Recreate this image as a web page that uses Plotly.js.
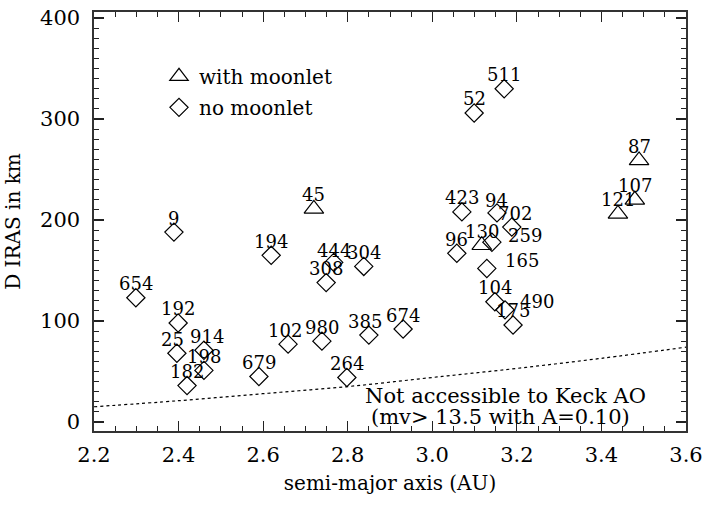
<!DOCTYPE html>
<html>
<head>
<meta charset="utf-8">
<script src="https://cdn.plot.ly/plotly-3.0.1.min.js"></script>
<style>
  html, body { margin: 0; padding: 0; background: #fff; }
  #chart { width: 710px; height: 505px; }
</style>
</head>
<body>
<div id="chart"></div>
<script>
// asteroids with a known moonlet (triangles)
const moonName = ['45', '130', '87', '107', '121'];
const moonA = [2.720, 3.117, 3.489, 3.479, 3.439];
const moonD = [211, 175, 259, 220, 206];

// asteroids without moonlet (diamonds)
const noName = ['9', '194', '444', '304', '308', '654', '192', '25', '914', '198', '182', '679', '102', '980',
  '264', '385', '674', '96', '423', '94', '702', '259', '165', '104', '490', '175', '511', '52'];
const noA = [2.389, 2.619, 2.767, 2.838, 2.749, 2.299, 2.399, 2.396, 2.460, 2.460, 2.420, 2.590, 2.659, 2.739,
  2.798, 2.850, 2.931, 3.058, 3.070, 3.153, 3.188, 3.141, 3.129, 3.148, 3.172, 3.191, 3.170, 3.099];
const noD = [188, 165, 158, 154, 138, 123, 98, 68, 71, 51, 36, 45, 77, 80,
  44, 86, 92, 167, 208, 207, 193, 178, 152, 119, 111, 96, 330, 306];

// Keck AO limit (mv > 13.5, A = 0.10)
const limitA = [2.2, 2.4, 2.6, 2.8, 3.0, 3.2, 3.4, 3.6];
const limitD = [15, 21, 28, 35, 44, 53, 63, 74];

// label shifts (px) for crowded names, default is centred above
const shiftX = { '25': -4, '914': 3, '102': -3, '385': -4, '702': 3, '259': 33, '165': 35, '490': 32 };
const shiftY = { '259': 7, '165': 8, '490': 8, '94': 12, '444': 12 };

const font = 'DejaVu Serif, serif';

function labels(names, xs, ys) {
  return names.map((n, i) => ({
    x: xs[i], y: ys[i], text: n, showarrow: false,
    xshift: shiftX[n] || 0, yshift: shiftY[n] || 14,
    font: { family: font, size: 18, color: '#000' }
  }));
}

const traces = [
  {
    x: moonA, y: moonD, type: 'scatter', mode: 'markers', name: 'with moonlet', legendgroup: 'a',
    marker: { symbol: 'triangle-up-open', size: 17, color: '#000', line: { width: 1.2, color: '#000' } }
  },
  {
    x: noA, y: noD, type: 'scatter', mode: 'markers', name: 'no moonlet', legendgroup: 'b',
    marker: { symbol: 'diamond-open', size: 14, color: '#000', line: { width: 1.2, color: '#000' } }
  },
  {
    x: limitA, y: limitD, type: 'scatter', mode: 'lines', showlegend: false, hoverinfo: 'skip',
    line: { color: '#000', width: 1.2, dash: 'dot', shape: 'spline' }
  }
];

function axis(title, range, dtick, minor, standoff, labelGap) {
  return {
    title: { text: title, standoff, font: { family: font, size: 20, color: '#000' } },
    range, dtick, tick0: 0, autorange: false,
    ticks: 'inside', ticklen: 10, tickwidth: 1.2, tickcolor: '#222',
    minor: { dtick: minor, ticks: 'inside', ticklen: 5, tickwidth: 1, tickcolor: '#222' },
    showline: true, linecolor: '#333', linewidth: 1.6, mirror: 'ticks',
    showgrid: false, zeroline: false, automargin: false,
    tickfont: { family: font, size: 21, color: '#000' },
    ticklabelstandoff: labelGap
  };
}

const layout = {
  width: 710, height: 505,
  margin: { l: 94, r: 24, t: 12, b: 74 },
  paper_bgcolor: '#fff', plot_bgcolor: '#fff',
  xaxis: { ...axis('semi-major axis (AU)', [2.2, 3.6], 0.2, 0.05, 10, 4), tickformat: '.1f' },
  yaxis: axis('D IRAS in km', [-9, 406], 100, 10, 14, 8),
  showlegend: true,
  legend: {
    x: 0.1098, y: 0.893, xanchor: 'left', yanchor: 'top',
    bgcolor: 'rgba(0,0,0,0)', borderwidth: 0, tracegroupgap: 2,
    font: { family: font, size: 20, color: '#000' }
  },
  annotations: [
    ...labels(moonName, moonA, moonD),
    ...labels(noName, noA, noD),
    { x: 3.174, y: 26, text: 'Not accessible to Keck AO', showarrow: false,
      font: { family: font, size: 21, color: '#000' } },
    { x: 3.162, y: 5, text: '(mv> 13.5 with A=0.10)', showarrow: false,
      font: { family: font, size: 21, color: '#000' } }
  ]
};

Plotly.newPlot('chart', traces, layout, { displayModeBar: false, staticPlot: true });
</script>
</body>
</html>
